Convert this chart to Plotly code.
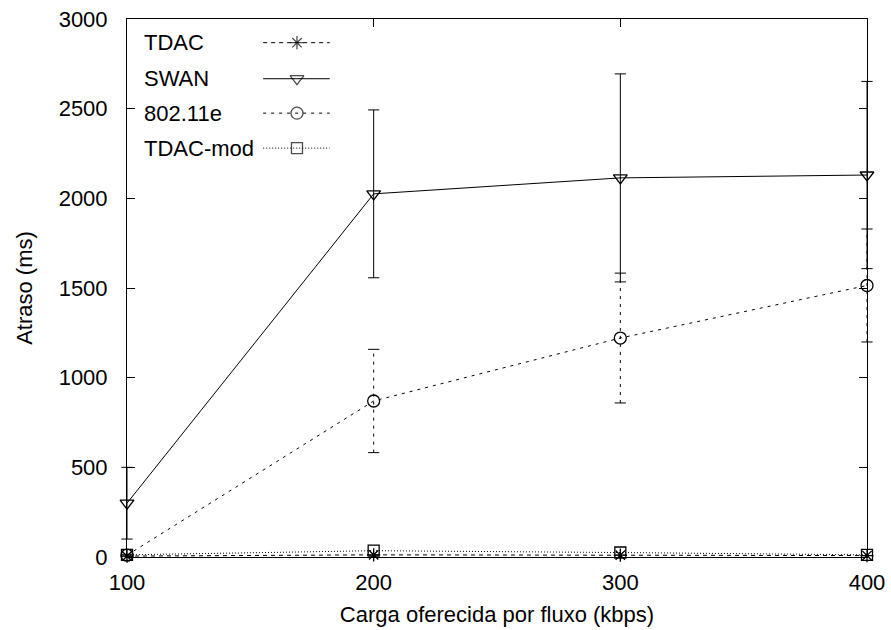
import plotly.graph_objects as go

# Offered load per flow (kbps)
carga = [100, 200, 300, 400]

# Mean delay (ms) and half-width of the error bars for each scheme
tdac = [5, 12, 10, 8]
tdac_err = [0, 0, 0, 0]
swan = [300, 2025, 2114, 2130]
swan_err = [200, 468, 580, 522]
ieee = [10, 870, 1221, 1514]
ieee_err = [5, 288, 362, 315]
tdac_mod = [12, 35, 25, 12]
tdac_mod_err = [0, 0, 0, 0]

series_names = ["TDAC", "SWAN", "802.11e", "TDAC-mod"]
y_ticks = [0, 500, 1000, 1500, 2000, 2500, 3000]
x_ticks = [100, 200, 300, 400]

FONT = "Liberation Sans, Arial, Helvetica, sans-serif"
FS = 22
BLACK = "#000000"

styles = {
    "TDAC": dict(dash="4px,4px", symbol="asterisk-open", size=11),
    "SWAN": dict(dash="solid", symbol="triangle-down-open", size=12),
    "802.11e": dict(dash="3px,5px", symbol="circle-open", size=12),
    "TDAC-mod": dict(dash="1px,2px", symbol="square-open", size=11),
}

fig = go.Figure()


def add_errorbars(xs, ys, errs, dash):
    """Vertical error segments (styled like the series line) with flat caps."""
    vx, vy, cx, cy = [], [], [], []
    for x, y, e in zip(xs, ys, errs):
        if e <= 0:
            continue
        vx += [x, x, None]
        vy += [y - e, y + e, None]
        cx += [x, x]
        cy += [y - e, y + e]
    if not vx:
        return
    fig.add_trace(go.Scatter(
        x=vx, y=vy, mode="lines", showlegend=False, hoverinfo="skip",
        line=dict(color=BLACK, width=1, dash=dash), cliponaxis=False))
    fig.add_trace(go.Scatter(
        x=cx, y=cy, mode="markers", showlegend=False, hoverinfo="skip",
        marker=dict(symbol="line-ew-open", size=8, color=BLACK,
                    line=dict(color=BLACK, width=1)),
        cliponaxis=False))


data = {
    "TDAC": (tdac, tdac_err),
    "SWAN": (swan, swan_err),
    "802.11e": (ieee, ieee_err),
    "TDAC-mod": (tdac_mod, tdac_mod_err),
}

for name in series_names:
    vals, errs = data[name]
    st = styles[name]
    add_errorbars(carga, vals, errs, st["dash"])
    fig.add_trace(go.Scatter(
        x=carga, y=vals, name=name, mode="lines+markers", showlegend=False,
        line=dict(color=BLACK, width=1, dash=st["dash"]),
        marker=dict(symbol=st["symbol"], size=st["size"], color=BLACK,
                    line=dict(color=BLACK, width=1.3)),
        cliponaxis=False))

# Key in the upper-left corner: label on the left, line sample on the right
key_rows = [0.956, 0.889, 0.825, 0.760]
key_text_x = 0.020
key_line = (0.184, 0.274)
key_mark = 0.2297
for name, ky in zip(series_names, key_rows):
    st = styles[name]
    fig.add_annotation(
        x=key_text_x, y=ky, xref="paper", yref="paper", text=name,
        showarrow=False, xanchor="left", yanchor="middle",
        font=dict(family=FONT, size=FS, color=BLACK))
    fig.add_trace(go.Scatter(
        x=[key_line[0], key_mark, key_line[1]], y=[ky, ky, ky],
        xaxis="x2", yaxis="y2", mode="lines+markers", showlegend=False,
        hoverinfo="skip",
        line=dict(color=BLACK, width=1, dash=st["dash"]),
        marker=dict(symbol=st["symbol"], size=[0, st["size"], 0],
                    color=BLACK, line=dict(color=BLACK, width=1.3)),
        cliponaxis=False))

fig.update_layout(
    width=891, height=630,
    margin=dict(l=127, r=24, t=19, b=73, autoexpand=False),
    paper_bgcolor="white", plot_bgcolor="white",
    font=dict(family=FONT, size=FS, color=BLACK),
    showlegend=False,
    xaxis=dict(
        range=[100, 400], tickvals=x_ticks, ticktext=[str(t) for t in x_ticks],
        ticks="inside", ticklen=8, tickcolor=BLACK, tickwidth=1,
        showline=True, linecolor=BLACK, linewidth=1, mirror="ticks",
        showgrid=False, zeroline=False, ticklabelstandoff=6,
        automargin=False,
        title=dict(text="Carga oferecida por fluxo (kbps)", standoff=12,
                   font=dict(family=FONT, size=FS)),
        tickfont=dict(family=FONT, size=FS)),
    yaxis=dict(
        range=[0, 3000], tickvals=y_ticks, ticktext=[str(t) for t in y_ticks],
        ticks="inside", ticklen=8, tickcolor=BLACK, tickwidth=1,
        showline=True, linecolor=BLACK, linewidth=1, mirror="ticks",
        showgrid=False, zeroline=False, ticklabelstandoff=14,
        automargin=False,
        title=dict(text="Atraso (ms)", standoff=19,
                   font=dict(family=FONT, size=FS)),
        tickfont=dict(family=FONT, size=FS)),
    xaxis2=dict(range=[0, 1], overlaying="x", visible=False, fixedrange=True),
    yaxis2=dict(range=[0, 1], overlaying="y", visible=False, fixedrange=True),
)

fig.write_html("out.html")
